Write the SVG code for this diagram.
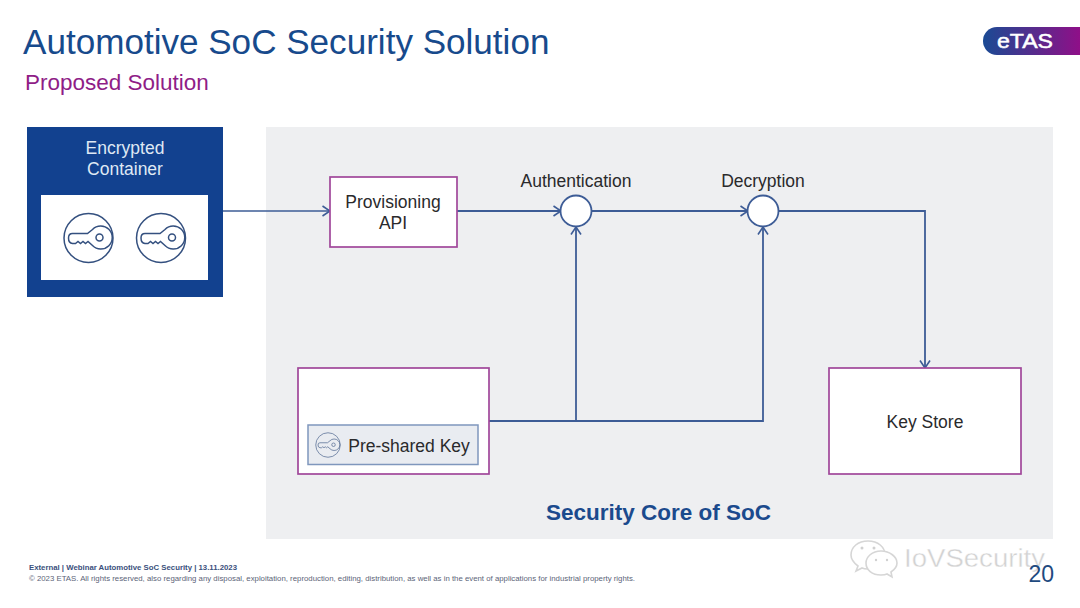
<svg xmlns="http://www.w3.org/2000/svg" width="1080" height="608" viewBox="0 0 1080 608">
<style>
text{font-family:"Liberation Sans",Arial,sans-serif}
.lbl{font-size:17.5px;fill:#2a2a2c;text-anchor:middle}
.wt{font-size:17.5px;fill:#dfe8f4;text-anchor:middle}
.box{fill:#fff;stroke:#a0479a;stroke-width:1.7}
.line{fill:none;stroke:#3d5c96;stroke-width:1.8}
.thin{stroke-width:1.4}
.key{fill:none;stroke:#34507f;stroke-width:1.5}
.wm{fill:#fff;stroke:#d6d6d6;stroke-width:1.6}
</style>
<defs>
<marker id="arr" viewBox="0 0 10 12" refX="9.5" refY="6" markerWidth="10" markerHeight="12" markerUnits="userSpaceOnUse" orient="auto">
<path d="M2 1L9.5 6L2 11" fill="none" stroke="#3d5c96" stroke-width="1.6"/>
</marker>
<linearGradient id="logo" x1="0" x2="1" y1="0" y2="0">
<stop offset="0" stop-color="#1a4a94"/><stop offset="0.55" stop-color="#5a2a8c"/><stop offset="1" stop-color="#8f0f88"/>
</linearGradient>
<g id="keyicon">
<circle r="24.5" class="key"/>
<path class="key" d="M4 -8.5A11.5 11.5 0 1 1 4 7.5L-0.5 3.5L-3 5.5L-5.5 3.5L-8 5.5L-10.5 3.5L-13 5.5L-16 5.5Q-20 5 -20 0Q-20 -4.5 -16 -4.5L-1 -4.5Z"/>
<circle cx="11" cy="-0.5" r="3.5" class="key"/>
</g>
</defs>
<rect width="1080" height="608" fill="#fff"/>
<text id="title" x="23" y="54" font-size="35.100px" fill="#174a8c">Automotive SoC Security Solution</text>
<text id="subtitle" x="25" y="90" font-size="22.500px" fill="#8f1d87">Proposed Solution</text>
<g id="etas-logo">
<path d="M1080 27H997A14 14 0 0 0 997 55H1080Z" fill="url(#logo)"/>
<text x="997" y="48" font-size="19.500px" fill="#fff" stroke="#fff" stroke-width="0.500" textLength="56" lengthAdjust="spacingAndGlyphs">eTAS</text>
</g>
<rect id="core-background" x="266" y="127" width="787" height="412" fill="#eeeff1"/>
<g id="connectors">
<path class="line thin" d="M222 211H330" marker-end="url(#arr)"/>
<path class="line" d="M457 211H561" marker-end="url(#arr)"/>
<path class="line" d="M592 211H748" marker-end="url(#arr)"/>
<path class="line" d="M778 211H925V368" marker-end="url(#arr)"/>
<path class="line" d="M489 421H763V227" marker-end="url(#arr)"/>
<path class="line" d="M576 421V227" marker-end="url(#arr)"/>
</g>
<g id="encrypted-container">
<rect x="27" y="127" width="196" height="170" fill="#12418f"/>
<text class="wt" x="125" y="154">Encrypted</text>
<text class="wt" x="125" y="175">Container</text>
<rect x="41" y="195" width="167" height="85" fill="#fff"/>
<use href="#keyicon" x="88.500" y="238"/>
<use href="#keyicon" x="161" y="238"/>
</g>
<g id="provisioning-api">
<rect class="box" x="330" y="177" width="127" height="70"/>
<text class="lbl" x="393" y="208">Provisioning</text>
<text class="lbl" x="393" y="229">API</text>
</g>
<g id="authentication">
<circle cx="576" cy="211" r="15.500" fill="#fff" stroke="#3d5c96" stroke-width="1.8"/>
<text class="lbl" x="576" y="187">Authentication</text>
</g>
<g id="decryption">
<circle cx="763" cy="211" r="15.500" fill="#fff" stroke="#3d5c96" stroke-width="1.8"/>
<text class="lbl" x="763" y="187">Decryption</text>
</g>
<g id="pre-shared-key">
<rect class="box" x="298" y="368" width="191" height="106"/>
<rect x="308" y="425" width="170" height="39.500" fill="#e9ecf1" stroke="#7f97bd" stroke-width="1.5"/>
<use href="#keyicon" transform="translate(328 445) scale(0.5)" opacity="0.8"/>
<text class="lbl" x="409" y="452">Pre-shared Key</text>
</g>
<g id="key-store">
<rect class="box" x="829" y="368" width="192" height="106"/>
<text class="lbl" x="925" y="428">Key Store</text>
</g>
<text id="core-label" x="658.500" y="520" font-size="22.500px" font-weight="700" fill="#1b4a8d" text-anchor="middle">Security Core of SoC</text>
<g id="footer">
<text x="29" y="570" font-size="7px" font-weight="700" fill="#3a4f7c" textLength="208" lengthAdjust="spacingAndGlyphs">External | Webinar Automotive SoC Security | 13.11.2023</text>
<text x="29" y="581" font-size="7px" fill="#5c6478" textLength="606" lengthAdjust="spacingAndGlyphs">© 2023 ETAS. All rights reserved, also regarding any disposal, exploitation, reproduction, editing, distribution, as well as in the event of applications for industrial property rights.</text>
</g>
<g id="watermark">
<path class="wm" d="M868 541C858 541 851 547 851 555C851 560 854 563 858 566L856 571L862 568C864 569 866 569 868 569C878 569 885 563 885 555C885 547 878 541 868 541Z"/>
<path class="wm" d="M881 551C872 551 866 557 866 563C866 570 872 575 881 575C883 575 885 575 887 574L892 577L891 572C894 570 897 567 897 563C897 557 890 551 881 551Z"/>
<circle cx="862" cy="548" r="1.500" fill="#d0d0d0"/><circle cx="874" cy="548" r="1.500" fill="#d0d0d0"/>
<circle cx="876" cy="560" r="1.200" fill="#d0d0d0"/><circle cx="887" cy="560" r="1.200" fill="#d0d0d0"/>
<text x="904" y="567" font-size="26.500px" fill="#d2d2d2" stroke="#fff" stroke-width="0.400" textLength="141" lengthAdjust="spacingAndGlyphs">IoVSecurity</text>
</g>
<text id="page-number" x="1054" y="582" font-size="23px" fill="#1f4a80" text-anchor="end">20</text>
</svg>
